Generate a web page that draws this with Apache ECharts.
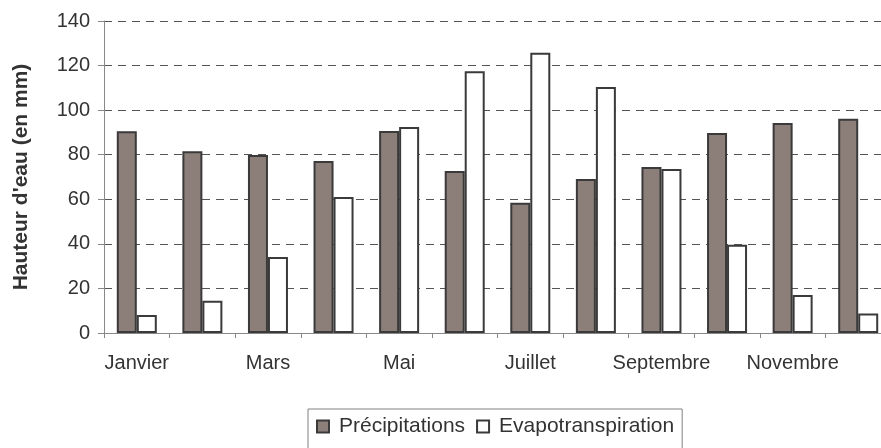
<!DOCTYPE html>
<html>
<head>
<meta charset="utf-8">
<script src="https://cdn.jsdelivr.net/npm/echarts@6/dist/echarts.min.js"></script>
<style>html,body{margin:0;padding:0;background:#fff}#c{width:881px;height:448px}</style>
</head>
<body>
<div id="c"></div>
<script>
const months = ['Janvier','Février','Mars','Avril','Mai','Juin','Juillet','Août','Septembre','Octobre','Novembre','Décembre'];
const precipitations = [90.5, 81.6, 79.9, 77.2, 90.6, 72.7, 58.5, 69.1, 74.5, 89.7, 94.2, 96.1];
const evapotranspiration = [8.1, 14.5, 34.1, 61.0, 92.4, 117.5, 125.8, 110.4, 73.6, 39.6, 17.0, 8.8];
const yTicks = {min: 0, max: 140, interval: 20};

const chart = echarts.init(document.getElementById('c'));
const font = 'Liberation Sans, Arial, sans-serif';
chart.setOption({
  animation: false,
  grid: {left: 104, top: 21, bottom: 115, right: -10, containLabel: false, outerBoundsMode: 'none'},
  legend: {
    left: 308, top: 409,
    data: ['Précipitations', 'Evapotranspiration'],
    itemWidth: 12, itemHeight: 12, itemGap: 11,
    icon: 'rect',
    borderColor: '#808080', borderWidth: 1,
    padding: [7, 8, 14, 8],
    textStyle: {fontFamily: font, fontSize: 21, color: '#333', padding: [0,0,0,5]}
  },
  xAxis: {
    type: 'category', data: months,
    axisLine: {lineStyle: {color: '#888', width: 1}},
    axisTick: {show: true, interval: 0, length: 5, lineStyle: {color: '#888'}},
    axisLabel: {interval: 1, fontFamily: font, fontSize: 20, color: '#333', margin: 20}
  },
  yAxis: {
    type: 'value', min: yTicks.min, max: yTicks.max, interval: yTicks.interval,
    name: "Hauteur d'eau (en mm)", nameLocation: 'middle', nameGap: 72, nameRotate: 90,
    nameTextStyle: {fontFamily: font, fontSize: 21, fontWeight: 'bold', color: '#333'},
    axisLine: {show: true, lineStyle: {color: '#888'}},
    axisTick: {show: true, length: 6, lineStyle: {color: '#888'}},
    axisLabel: {fontFamily: font, fontSize: 20, color: '#333', margin: 14},
    splitLine: {lineStyle: {color: '#555', type: [8, 6], width: 1}}
  },
  series: [
    {name: 'Précipitations', type: 'bar', data: precipitations, barWidth: 20, barGap: '0%',
     itemStyle: {color: '#8c7f7a', borderColor: '#3a3a3a', borderWidth: 2}},
    {name: 'Evapotranspiration', type: 'bar', data: evapotranspiration, barWidth: 20,
     itemStyle: {color: '#ffffff', borderColor: '#3a3a3a', borderWidth: 2}}
  ]
});
</script>
</body>
</html>
